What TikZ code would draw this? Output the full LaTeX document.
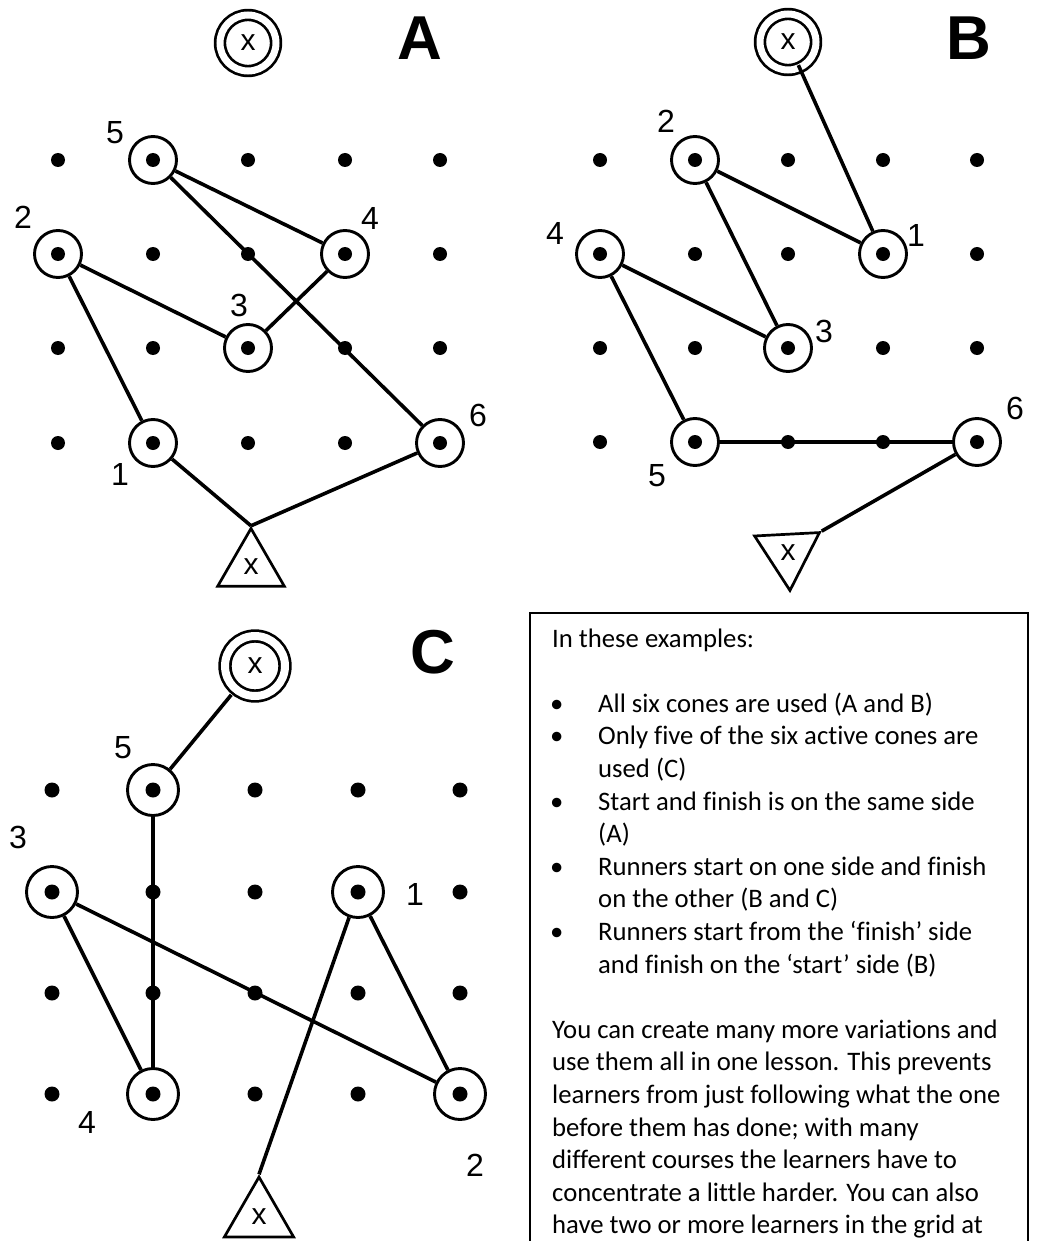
\documentclass[tikz,border=0pt]{standalone}
\usepackage{fontspec}
\setmainfont{Carlito}[Ligatures=NoCommon]
\newfontfamily\labfont{Liberation Sans}
\usetikzlibrary{shapes.geometric}
\begin{document}
\begin{tikzpicture}[x=1pt,y=-1pt,
  gdot/.style={circle,fill=black,inner sep=0pt,minimum size=14pt},
  cone/.style={circle,draw,line width=2.9pt,inner sep=0pt,minimum size=47pt},
  finish/.style={circle,draw,double,double distance=7pt,line width=2.7pt,inner sep=0pt,minimum size=56pt,font=\labfont\fontsize{30}{30}\selectfont},
  start/.style={regular polygon,regular polygon sides=3,draw,line width=2.7pt,inner sep=0pt,font=\labfont\fontsize{30}{30}\selectfont},
  route/.style={line width=3.6pt},
  num/.style={font=\labfont\fontsize{32}{32}\selectfont,inner sep=0pt},
  panel/.style={font=\labfont\bfseries\fontsize{62}{62}\selectfont,inner sep=0pt},
  body/.style={anchor=base west,inner sep=0pt,font=\fontsize{26.7}{32.6}\selectfont},
]
\clip (0,0) rectangle (1036,1241);
\fill[white] (0,0) rectangle (1036,1241);

% ---------------- Panel A ----------------
\foreach \c [count=\i] in {58,153,248,345,440}
  \foreach \r [count=\j] in {160,254,348,443}
    \node[gdot] (dA\i\j) at (\c,\r) {};
\node[cone] (A1) at (153,443) {};
\node[cone] (A2) at (58,254) {};
\node[cone] (A3) at (248,348) {};
\node[cone] (A4) at (345,254) {};
\node[cone] (A5) at (153,160) {};
\node[cone] (A6) at (440,443) {};
\node[finish] (fA) at (248,43) {x};
\node[start,minimum size=77pt] (sA) at (251,567) {x};
\node[panel] (pA) at (420,38) {A};
\node[num] (nA5) at (115,133) {5};
\node[num] (nA2) at (23,217) {2};
\node[num] (nA4) at (370,218) {4};
\node[num] (nA3) at (239,305) {3};
\node[num] (nA1) at (120,474) {1};
\node[num] (nA6) at (478,415) {6};
\draw[route] (A5) -- (A4);
\draw[route] (A5) -- (A6);
\draw[route] (A2) -- (A3);
\draw[route] (A2) -- (A1);
\draw[route] (A4) -- (A3);
\draw[route] (A1) -- (sA.corner 1);
\draw[route] (A6) -- (sA.corner 1);

% ---------------- Panel B ----------------
\foreach \c [count=\i] in {600,695,788,883,977}
  \foreach \r [count=\j] in {160,254,348,442}
    \node[gdot] (dB\i\j) at (\c,\r) {};
\node[cone] (B1) at (883,254) {};
\node[cone] (B2) at (695,160) {};
\node[cone] (B3) at (788,348) {};
\node[cone] (B4) at (600,254) {};
\node[cone] (B5) at (695,442) {};
\node[cone] (B6) at (977,442) {};
\node[finish] (fB) at (788,42) {x};
\node[start,minimum size=75pt,shape border rotate=183] (sB) at (788,553) {x};
\node[panel] (pB) at (969,38) {B};
\node[num] (nB2) at (666,121) {2};
\node[num] (nB1) at (916,235) {1};
\node[num] (nB4) at (555,233) {4};
\node[num] (nB3) at (824,331) {3};
\node[num] (nB6) at (1015,408) {6};
\node[num] (nB5) at (657,476) {5};
\draw[route,shorten >=-4pt] (B1) -- (fB);
\draw[route] (B2) -- (B1);
\draw[route] (B2) -- (B3);
\draw[route] (B4) -- (B3);
\draw[route] (B4) -- (B5);
\draw[route] (B5) -- (B6);
\draw[route] (B6) -- (sB.corner 2);

% ---------------- Panel C ----------------
\foreach \c [count=\i] in {52,153,255,358,460}
  \foreach \r [count=\j] in {790,892,993,1094}
    \node[gdot,minimum size=15pt] (dC\i\j) at (\c,\r) {};
\node[cone,minimum size=51pt] (C1) at (358,892) {};
\node[cone,minimum size=51pt] (C2) at (460,1094) {};
\node[cone,minimum size=51pt] (C3) at (52,892) {};
\node[cone,minimum size=51pt] (C4) at (153,1094) {};
\node[cone,minimum size=51pt] (C5) at (153,790) {};
\node[finish,minimum size=60pt,double distance=8pt] (fC) at (255,666) {x};
\node[start,minimum size=80pt] (sC) at (259,1217) {x};
\node[panel] (pC) at (433,652) {C};
\node[num] (nC5) at (123,748) {5};
\node[num] (nC3) at (18,837) {3};
\node[num] (nC1) at (415,894) {1};
\node[num] (nC4) at (87,1122) {4};
\node[num] (nC2) at (475,1165) {2};
\draw[route,shorten >=6pt] (C5) -- (fC);
\draw[route] (C5) -- (C4);
\draw[route] (C3) -- (C4);
\draw[route] (C3) -- (C2);
\draw[route] (C1) -- (C2);
\draw[route] (C1) -- (sC.corner 1);

% ---------------- Text box ----------------
\draw[line width=2.4pt] (530,1300) -- (530,613) -- (1028,613) -- (1028,1300);
\node[body] (t0) at (552,647) {In these examples:};
\node[body] (b1) at (550,712.2) {•};
\node[body] (t2) at (598,712.2) {All six cones are used (A and B)};
\node[body] (b2) at (550,744.8) {•};
\node[body] (t3) at (598,744.8) {Only five of the six active cones are};
\node[body] (t4) at (598,777.4) {used (C)};
\node[body] (b3) at (550,810.0) {•};
\node[body] (t5) at (598,810.0) {Start and finish is on the same side};
\node[body] (t6) at (598,842.6) {(A)};
\node[body] (b4) at (550,875.2) {•};
\node[body] (t7) at (598,875.2) {Runners start on one side and finish};
\node[body] (t8) at (598,907.8) {on the other (B and C)};
\node[body] (b5) at (550,940.4) {•};
\node[body] (t9) at (598,940.4) {Runners start from the ‘finish’ side};
\node[body] (t10) at (598,973.0) {and finish on the ‘start’ side (B)};
\node[body] (t12) at (552,1038.2) {You can create many more variations and};
\node[body] (t13) at (552,1070.8) {use them all in one lesson. This prevents};
\node[body] (t14) at (552,1103.4) {learners from just following what the one};
\node[body] (t15) at (552,1136.0) {before them has done; with many};
\node[body] (t16) at (552,1168.6) {different courses the learners have to};
\node[body] (t17) at (552,1201.2) {concentrate a little harder. You can also};
\node[body] (t18) at (552,1233.8) {have two or more learners in the grid at};
\end{tikzpicture}
\end{document}
